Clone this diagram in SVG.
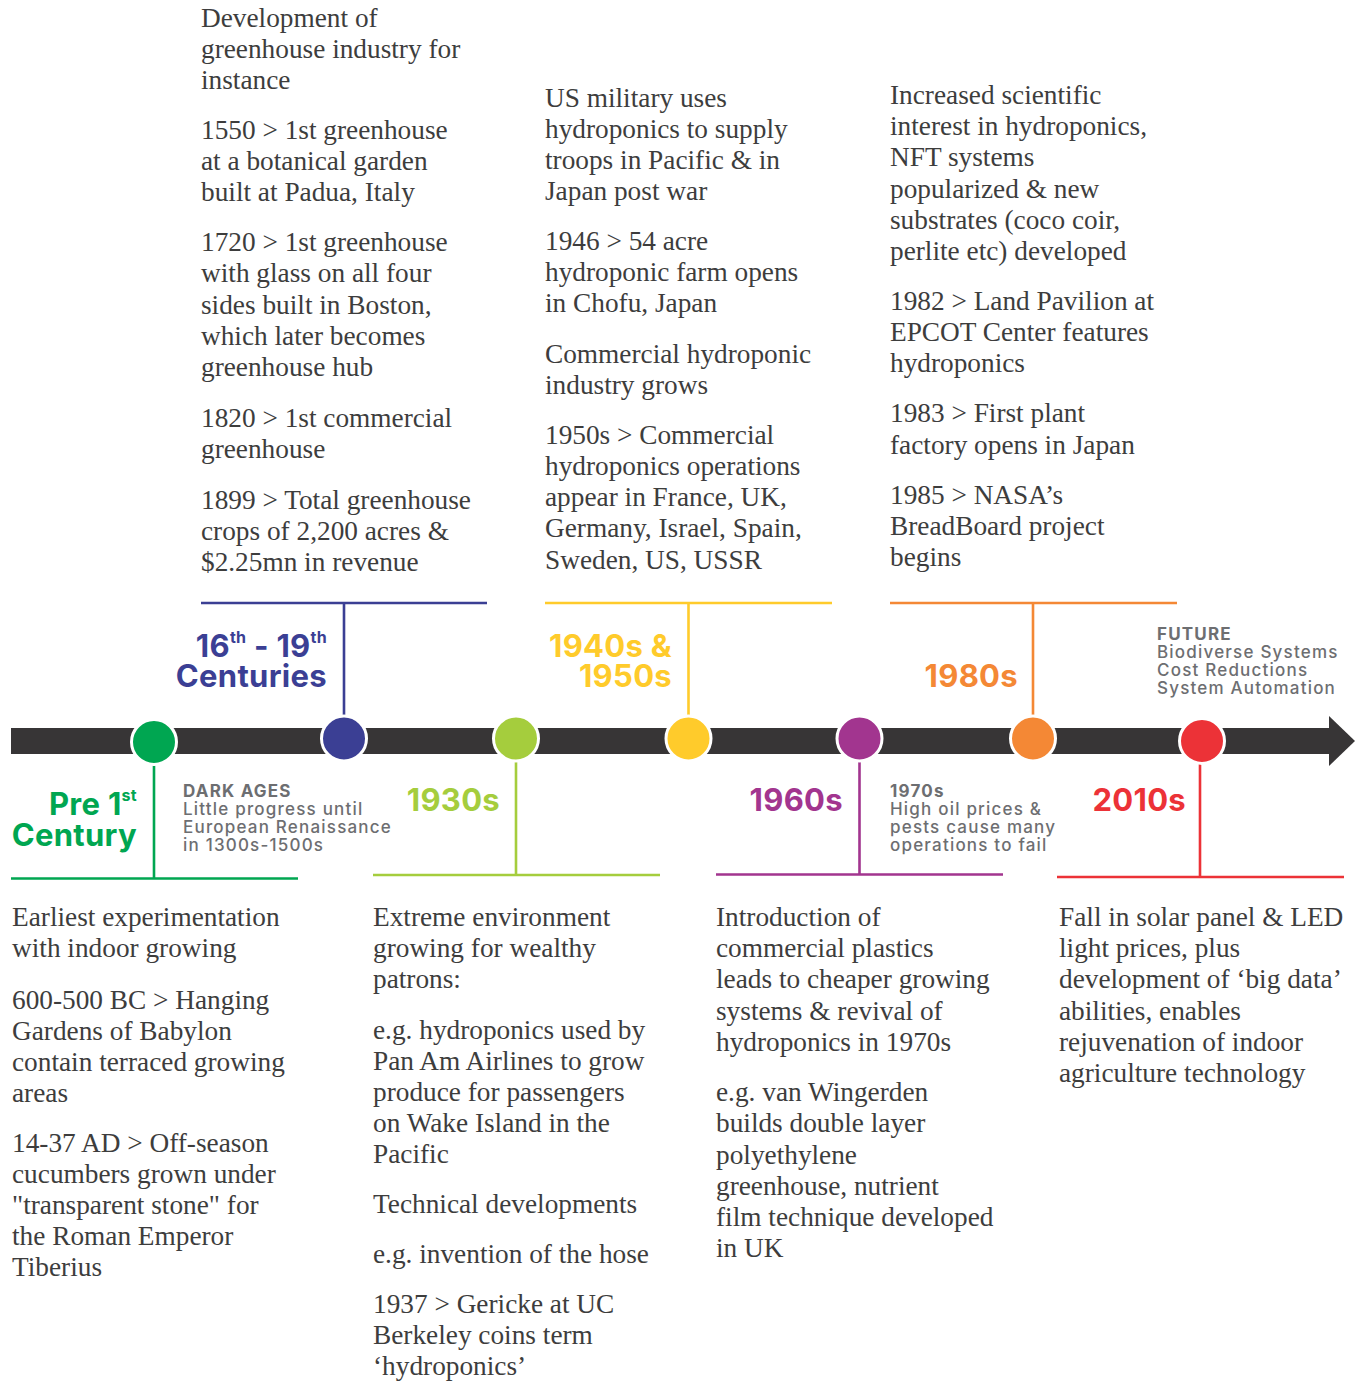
<svg xmlns="http://www.w3.org/2000/svg" width="1357" height="1382" viewBox="0 0 1357 1382">
<style>
.body{font-family:"Liberation Serif","Times New Roman",serif;font-size:27.3px;fill:#3d3d3d}
.era{font-family:Inter,"Open Sans",sans-serif;font-weight:700;font-size:31px;text-anchor:end;letter-spacing:0.3px}
.sup{font-size:16px}
.note{font-family:Inter,"Open Sans",sans-serif;font-size:17px;fill:#6d6e71;font-weight:500;letter-spacing:1.2px}
.note .h{font-weight:700}
.dot{stroke:#fff;stroke-width:3}
.ln{fill:none;stroke-width:2.6}
</style>
<rect width="1357" height="1382" fill="#fff"/>
<g id="timeline">
<rect x="11" y="728" width="1321" height="26" fill="#373536"/>
<polygon points="1329,716 1355,741 1329,766" fill="#373536"/>
</g>
<g id="connectors">
<path class="ln" stroke="#00a651" d="M154 764V878.5M11 878.5H298"/>
<path class="ln" stroke="#3b3f94" d="M344 603V716M201 603H487"/>
<path class="ln" stroke="#a5cd3d" d="M516 760V875M373 875H660"/>
<path class="ln" stroke="#ffcb2b" d="M688.5 603V716M545 603H832"/>
<path class="ln" stroke="#a2358f" d="M859.5 760V874.5M716 874.5H1003"/>
<path class="ln" stroke="#f48835" d="M1033 603V716M890 603H1177"/>
<path class="ln" stroke="#ec3237" d="M1200 763V877M1057 877H1344"/>
</g>
<g id="pre1st">
<circle class="dot" cx="154" cy="742" r="22.5" fill="#00a651"/>
<text class="era" fill="#00a651"><tspan x="137" y="815">Pre 1</tspan><tspan class="sup" dy="-14">st</tspan><tspan x="137" y="846">Century</tspan></text>
<text class="body"><tspan x="12" y="926">Earliest experimentation</tspan><tspan x="12" y="957">with indoor growing</tspan><tspan x="12" y="1009">600-500 BC &gt; Hanging</tspan><tspan x="12" y="1040">Gardens of Babylon</tspan><tspan x="12" y="1071">contain terraced growing</tspan><tspan x="12" y="1102">areas</tspan><tspan x="12" y="1152">14-37 AD &gt; Off-season</tspan><tspan x="12" y="1183">cucumbers grown under</tspan><tspan x="12" y="1214">"transparent stone" for</tspan><tspan x="12" y="1245">the Roman Emperor</tspan><tspan x="12" y="1276">Tiberius</tspan></text>
</g>
<g id="darkages">
<text class="note"><tspan class="h" x="183" y="797">DARK AGES</tspan><tspan x="183" y="815">Little progress until</tspan><tspan x="183" y="833">European Renaissance</tspan><tspan x="183" y="851">in 1300s-1500s</tspan></text>
</g>
<g id="c16-19">
<circle class="dot" cx="344" cy="738.5" r="22.5" fill="#3b3f94"/>
<text class="era" fill="#3b3f94"><tspan x="327" y="657">16</tspan><tspan class="sup" dy="-14">th</tspan><tspan dy="14"> - 19</tspan><tspan class="sup" dy="-14">th</tspan><tspan x="327" y="687">Centuries</tspan></text>
<text class="body"><tspan x="201" y="27">Development of</tspan><tspan x="201" y="58">greenhouse industry for</tspan><tspan x="201" y="89">instance</tspan><tspan x="201" y="139">1550 &gt; 1st greenhouse</tspan><tspan x="201" y="170">at a botanical garden</tspan><tspan x="201" y="201">built at Padua, Italy</tspan><tspan x="201" y="251">1720 &gt; 1st greenhouse</tspan><tspan x="201" y="282">with glass on all four</tspan><tspan x="201" y="314">sides built in Boston,</tspan><tspan x="201" y="345">which later becomes</tspan><tspan x="201" y="376">greenhouse hub</tspan><tspan x="201" y="427">1820 &gt; 1st commercial</tspan><tspan x="201" y="458">greenhouse</tspan><tspan x="201" y="509">1899 &gt; Total greenhouse</tspan><tspan x="201" y="540">crops of 2,200 acres &amp;</tspan><tspan x="201" y="571">$2.25mn in revenue</tspan></text>
</g>
<g id="d1930s">
<circle class="dot" cx="516" cy="738.5" r="22.5" fill="#a5cd3d"/>
<text class="era" fill="#a5cd3d" x="500" y="811">1930s</text>
<text class="body"><tspan x="373" y="926">Extreme environment</tspan><tspan x="373" y="957">growing for wealthy</tspan><tspan x="373" y="988">patrons:</tspan><tspan x="373" y="1039">e.g. hydroponics used by</tspan><tspan x="373" y="1070">Pan Am Airlines to grow</tspan><tspan x="373" y="1101">produce for passengers</tspan><tspan x="373" y="1132">on Wake Island in the</tspan><tspan x="373" y="1163">Pacific</tspan><tspan x="373" y="1213">Technical developments</tspan><tspan x="373" y="1263">e.g. invention of the hose</tspan><tspan x="373" y="1313">1937 &gt; Gericke at UC</tspan><tspan x="373" y="1344">Berkeley coins term</tspan><tspan x="373" y="1375">‘hydroponics’</tspan></text>
</g>
<g id="d1940s">
<circle class="dot" cx="688.5" cy="738.5" r="22.5" fill="#ffcb2b"/>
<text class="era" fill="#ffcb2b"><tspan x="672" y="657">1940s &amp;</tspan><tspan x="672" y="687">1950s</tspan></text>
<text class="body"><tspan x="545" y="107">US military uses</tspan><tspan x="545" y="138">hydroponics to supply</tspan><tspan x="545" y="169">troops in Pacific &amp; in</tspan><tspan x="545" y="200">Japan post war</tspan><tspan x="545" y="250">1946 &gt; 54 acre</tspan><tspan x="545" y="281">hydroponic farm opens</tspan><tspan x="545" y="312">in Chofu, Japan</tspan><tspan x="545" y="363">Commercial hydroponic</tspan><tspan x="545" y="394">industry grows</tspan><tspan x="545" y="444">1950s &gt; Commercial</tspan><tspan x="545" y="475">hydroponics operations</tspan><tspan x="545" y="506">appear in France, UK,</tspan><tspan x="545" y="537">Germany, Israel, Spain,</tspan><tspan x="545" y="569">Sweden, US, USSR</tspan></text>
</g>
<g id="d1960s">
<circle class="dot" cx="859.5" cy="738.5" r="22.5" fill="#a2358f"/>
<text class="era" fill="#a2358f" x="843" y="811">1960s</text>
<text class="body"><tspan x="716" y="926">Introduction of</tspan><tspan x="716" y="957">commercial plastics</tspan><tspan x="716" y="988">leads to cheaper growing</tspan><tspan x="716" y="1020">systems &amp; revival of</tspan><tspan x="716" y="1051">hydroponics in 1970s</tspan><tspan x="716" y="1101">e.g. van Wingerden</tspan><tspan x="716" y="1132">builds double layer</tspan><tspan x="716" y="1164">polyethylene</tspan><tspan x="716" y="1195">greenhouse, nutrient</tspan><tspan x="716" y="1226">film technique developed</tspan><tspan x="716" y="1257">in UK</tspan></text>
</g>
<g id="d1970s">
<text class="note"><tspan class="h" x="890" y="797">1970s</tspan><tspan x="890" y="815">High oil prices &amp;</tspan><tspan x="890" y="833">pests cause many</tspan><tspan x="890" y="851">operations to fail</tspan></text>
</g>
<g id="d1980s">
<circle class="dot" cx="1033" cy="738.5" r="22.5" fill="#f48835"/>
<text class="era" fill="#f48835" x="1018" y="687">1980s</text>
<text class="body"><tspan x="890" y="104">Increased scientific</tspan><tspan x="890" y="135">interest in hydroponics,</tspan><tspan x="890" y="166">NFT systems</tspan><tspan x="890" y="198">popularized &amp; new</tspan><tspan x="890" y="229">substrates (coco coir,</tspan><tspan x="890" y="260">perlite etc) developed</tspan><tspan x="890" y="310">1982 &gt; Land Pavilion at</tspan><tspan x="890" y="341">EPCOT Center features</tspan><tspan x="890" y="372">hydroponics</tspan><tspan x="890" y="422">1983 &gt; First plant</tspan><tspan x="890" y="454">factory opens in Japan</tspan><tspan x="890" y="504">1985 &gt; NASA’s</tspan><tspan x="890" y="535">BreadBoard project</tspan><tspan x="890" y="566">begins</tspan></text>
</g>
<g id="d2010s">
<circle class="dot" cx="1202" cy="741" r="22.5" fill="#ec3237"/>
<text class="era" fill="#ec3237" x="1186" y="811">2010s</text>
<text class="body"><tspan x="1059" y="926">Fall in solar panel &amp; LED</tspan><tspan x="1059" y="957">light prices, plus</tspan><tspan x="1059" y="988">development of ‘big data’</tspan><tspan x="1059" y="1020">abilities, enables</tspan><tspan x="1059" y="1051">rejuvenation of indoor</tspan><tspan x="1059" y="1082">agriculture technology</tspan></text>
</g>
<g id="future">
<text class="note"><tspan class="h" x="1157" y="640">FUTURE</tspan><tspan x="1157" y="658">Biodiverse Systems</tspan><tspan x="1157" y="676">Cost Reductions</tspan><tspan x="1157" y="694">System Automation</tspan></text>
</g>
</svg>
